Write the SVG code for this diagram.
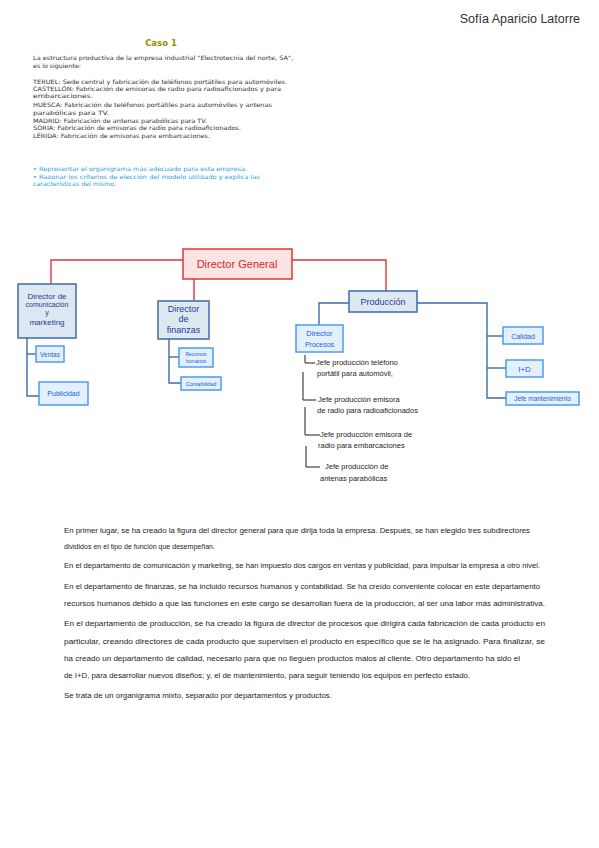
<svg xmlns="http://www.w3.org/2000/svg" width="599" height="848" viewBox="0 0 599 848">
<style>
.hdr{font-family:"DejaVu Sans","Liberation Sans",sans-serif;font-size:6px;fill:#333}
.task{font-family:"DejaVu Sans","Liberation Sans",sans-serif;font-size:6px;fill:#2aa3d8}
.hand{font-family:"Liberation Sans","DejaVu Sans",sans-serif;font-size:7.5px;fill:#1e1e1e}
.dg{fill:#fbe4e4;stroke:#e0343a;stroke-width:1.5}
.dark{fill:#dde8f3;stroke:#3b6ea5;stroke-width:1.5}
.light{fill:#e4f0fd;stroke:#4c9cf2;stroke-width:1.5}
.tdg{font-family:"Liberation Sans",sans-serif;font-size:11px;fill:#d9262c;text-anchor:middle}
.tdark{font-family:"Liberation Sans",sans-serif;fill:#1f3f8f;text-anchor:middle}
.tlight{font-family:"Liberation Sans",sans-serif;fill:#1a62d6;text-anchor:middle}
.red{fill:none;stroke:#e0343a;stroke-width:1.4}
.blue{fill:none;stroke:#3b6ea5;stroke-width:1.4}
.blk{fill:none;stroke:#1e1e1e;stroke-width:1}
.sub{font-family:"Liberation Sans",sans-serif;font-size:7.5px;fill:#1e1e1e}
</style>
<rect width="599" height="848" fill="#ffffff"/>
<text x="580" y="23" text-anchor="end" font-family="Liberation Sans,Arial,sans-serif" font-size="12.5" fill="#333">Sofía Aparicio Latorre</text>
<text x="161" y="46" text-anchor="middle" font-family="DejaVu Sans,sans-serif" font-size="8.5" font-weight="bold" fill="#8f8f00">Caso 1</text>
<g id="enunciado">
<text class="hdr" x="33" y="60" textLength="260" lengthAdjust="spacingAndGlyphs">La estructura productiva de la empresa industrial "Electrotecnia del norte, SA",</text>
<text class="hdr" x="33" y="68" textLength="48" lengthAdjust="spacingAndGlyphs">es lo siguiente:</text>
<text class="hdr" x="33" y="84" textLength="254" lengthAdjust="spacingAndGlyphs">TERUEL: Sede central y fabricación de teléfonos portátiles para automóviles.</text>
<text class="hdr" x="33" y="91" textLength="248" lengthAdjust="spacingAndGlyphs">CASTELLÓN: Fabricación de emisoras de radio para radioaficionados y para</text>
<text class="hdr" x="33" y="98" textLength="60" lengthAdjust="spacingAndGlyphs">embarcaciones.</text>
<text class="hdr" x="33" y="107" textLength="239" lengthAdjust="spacingAndGlyphs">HUESCA: Fabricación de teléfonos portátiles para automóviles y antenas</text>
<text class="hdr" x="33" y="115" textLength="76" lengthAdjust="spacingAndGlyphs">parabólicas para TV.</text>
<text class="hdr" x="33" y="123" textLength="174" lengthAdjust="spacingAndGlyphs">MADRID: Fabricación de antenas parabólicas para TV.</text>
<text class="hdr" x="33" y="130" textLength="208" lengthAdjust="spacingAndGlyphs">SORIA: Fabricación de emisoras de radio para radioaficionados.</text>
<text class="hdr" x="33" y="138" textLength="177" lengthAdjust="spacingAndGlyphs">LÉRIDA: Fabricación de emisoras para embarcaciones.</text>
<text class="task" x="33" y="171" textLength="214" lengthAdjust="spacingAndGlyphs">• Representar el organigrama más adecuado para esta empresa.</text>
<text class="task" x="33" y="179" textLength="227" lengthAdjust="spacingAndGlyphs">• Razonar los criterios de elección del modelo utilizado y explica las</text>
<text class="task" x="33" y="186" textLength="83" lengthAdjust="spacingAndGlyphs">características del mismo.</text>
</g>
<g id="connectors">
<polyline class="red" points="183,260 51,260 51,284"/>
<polyline class="red" points="194,279 194,301"/>
<polyline class="red" points="292,260 386,260 386,291"/>
<polyline class="blue" points="27,338 27,396 39,396"/>
<polyline class="blue" points="27,354 36,354"/>
<polyline class="blue" points="169,339 169,383 181,383"/>
<polyline class="blue" points="169,357 179,357"/>
<polyline class="blue" points="349,303 319,303 319,325"/>
<polyline class="blue" points="417,303 487,303 487,398 506,398"/>
<polyline class="blue" points="487,336 503,336"/>
<polyline class="blue" points="487,368 506,368"/>
<polyline class="blk" points="305,355 305,363 315,363"/>
<polyline class="blk" points="303,372 303,400 316,400"/>
<polyline class="blk" points="305,407 305,435 320,435"/>
<polyline class="blk" points="306,446 306,467 320,467"/>
</g>
<g id="director-general">
<rect class="dg" x="183" y="249" width="109" height="30"/>
<text class="tdg" x="237" y="268">Director General</text>
</g>
<g id="director-comunicacion">
<rect class="dark" x="18" y="284" width="58" height="54"/>
<text class="tdark" font-size="8" x="47" y="299">Director de</text>
<text class="tdark" font-size="7" x="47" y="307">comunicación</text>
<text class="tdark" font-size="7" x="47" y="315">y</text>
<text class="tdark" font-size="8" x="47" y="325">marketing</text>
</g>
<g id="ventas">
<rect class="light" x="36" y="346" width="28" height="16"/>
<text class="tlight" font-size="6.5" x="50" y="356.5">Ventas</text>
</g>
<g id="publicidad">
<rect class="light" x="39" y="382" width="49" height="23"/>
<text class="tlight" font-size="7" x="63.5" y="396">Publicidad</text>
</g>
<g id="director-finanzas">
<rect class="dark" x="158" y="301" width="51" height="38"/>
<text class="tdark" font-size="9" x="183.5" y="312">Director</text>
<text class="tdark" font-size="9" x="183.5" y="322">de</text>
<text class="tdark" font-size="9" x="183.5" y="333">finanzas</text>
</g>
<g id="recursos-humanos">
<rect class="light" x="179" y="348" width="34" height="19"/>
<text class="tlight" font-size="5" x="196" y="356">Recursos</text>
<text class="tlight" font-size="5" x="196" y="362.5">humanos</text>
</g>
<g id="contabilidad">
<rect class="light" x="181" y="377" width="40" height="13"/>
<text class="tlight" font-size="5.5" x="201" y="385.5">Contabilidad</text>
</g>
<g id="produccion">
<rect class="dark" x="349" y="291" width="68" height="21"/>
<text class="tdark" font-size="9" x="383" y="305">Producción</text>
</g>
<g id="director-procesos">
<rect class="light" x="296" y="325" width="47" height="27"/>
<text class="tlight" font-size="7.5" x="319.5" y="336">Director</text>
<text class="tlight" font-size="7" x="319.5" y="347">Procesos</text>
</g>
<g id="calidad">
<rect class="light" x="503" y="327" width="40" height="17"/>
<text class="tlight" font-size="7" x="523" y="338.5">Calidad</text>
</g>
<g id="id">
<rect class="light" x="506" y="360" width="37" height="17"/>
<text class="tlight" font-size="8" x="524.5" y="371.5">I+D</text>
</g>
<g id="jefe-mantenimiento">
<rect class="light" x="506" y="392" width="73" height="13"/>
<text class="tlight" font-size="6.5" x="542.5" y="401">Jefe mantenimiento</text>
</g>
<g id="jefes-produccion">
<text class="sub" x="316" y="365">Jefe producción teléfono</text>
<text class="sub" x="317" y="376">portátil para automóvil,</text>
<text class="sub" x="318" y="402">Jefe producción emisora</text>
<text class="sub" x="317" y="413">de radio para radioaficionados</text>
<text class="sub" x="320" y="437">Jefe producción emisora de</text>
<text class="sub" x="318" y="448">radio para embarcaciones</text>
<text class="sub" x="325" y="469">Jefe producción de</text>
<text class="sub" x="320" y="481">antenas parabólicas</text>
</g>
<g id="texto">
<text class="hand" x="64" y="533" textLength="466" lengthAdjust="spacingAndGlyphs">En primer lugar, se ha creado la figura del director general para que dirija toda la empresa. Después, se han elegido tres subdirectores</text>
<text class="hand" x="64" y="549" textLength="151" lengthAdjust="spacingAndGlyphs">divididos en el tipo de función que desempeñan.</text>
<text class="hand" x="64" y="568" textLength="476" lengthAdjust="spacingAndGlyphs">En el departamento de comunicación y marketing, se han impuesto dos cargos en ventas y publicidad, para impulsar la empresa a otro nivel.</text>
<text class="hand" x="64" y="589" textLength="476" lengthAdjust="spacingAndGlyphs">En el departamento de finanzas, se ha incluido recursos humanos y contabilidad. Se ha creído conveniente colocar en este departamento</text>
<text class="hand" x="64" y="606" textLength="481" lengthAdjust="spacingAndGlyphs">recursos humanos debido a que las funciones en este cargo se desarrollan fuera de la producción, al ser una labor más administrativa.</text>
<text class="hand" x="64" y="626" textLength="481" lengthAdjust="spacingAndGlyphs">En el departamento de producción, se ha creado la figura de director de procesos que dirigirá cada fabricación de cada producto en</text>
<text class="hand" x="64" y="644" textLength="481" lengthAdjust="spacingAndGlyphs">particular, creando directores de cada producto que supervisen el producto en específico que se le ha asignado. Para finalizar, se</text>
<text class="hand" x="64" y="661" textLength="456" lengthAdjust="spacingAndGlyphs">ha creado un departamento de calidad, necesario para que no lleguen productos malos al cliente. Otro departamento ha sido el</text>
<text class="hand" x="64" y="678" textLength="406" lengthAdjust="spacingAndGlyphs">de I+D, para desarrollar nuevos diseños; y, el de mantenimiento, para seguir teniendo los equipos en perfecto estado.</text>
<text class="hand" x="64" y="698" textLength="268" lengthAdjust="spacingAndGlyphs">Se trata de un organigrama mixto, separado por departamentos y productos.</text>
</g>
</svg>
